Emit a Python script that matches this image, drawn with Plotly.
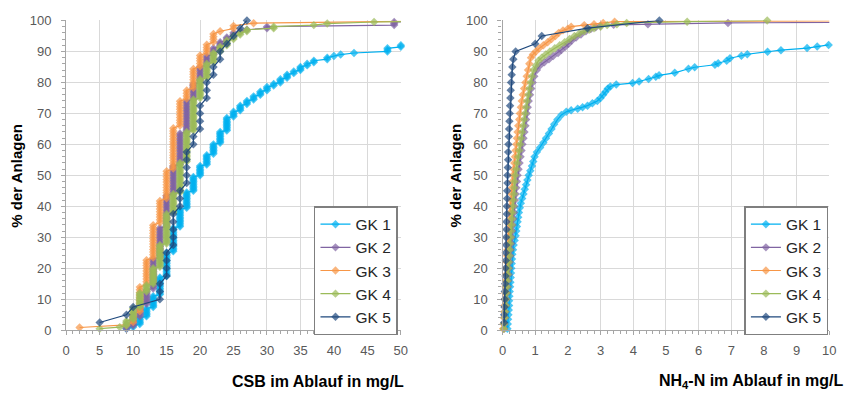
import plotly.graph_objects as go

# ---------------- data: left chart, CSB (COD) in mg/L ----------------
# distinct effluent values and cumulative share of plants (%) reached at each value
series_names = ["GK 1", "GK 2", "GK 3", "GK 4", "GK 5"]
csb_plants = [200, 200, 115, 200, 40]

csb_gk1_x = [9, 10, 11, 12, 13, 14, 15, 16, 17, 18, 19, 20, 21, 22, 23, 24, 25, 26, 27, 28,
             29, 30, 31, 32, 33, 34, 35, 36, 37, 39, 40, 41, 43, 48, 50]
csb_gk1_cum = [0.5, 1.5, 4, 7, 11, 17, 25, 33, 39, 44.5, 49.5, 53, 56.5, 60, 64, 68.5, 70.5, 72.5, 74, 75.5,
               77, 78.5, 79.5, 81, 82.5, 83.5, 85, 86, 87, 88, 88.5, 89, 89.5, 91, 92]

csb_gk2_x = [9, 10, 11, 12, 13, 14, 15, 16, 17, 18, 19, 20, 21, 22, 23, 24, 25, 26, 27, 30, 33, 49, 60]
csb_gk2_cum = [1, 4, 8, 13, 23, 33, 43.5, 53, 63.5, 74, 79.5, 85, 88.5, 91, 93, 94.5, 96, 96.5, 97,
               97.8, 98.2, 99.6, 100]

csb_gk3_x = [2, 9, 10, 11, 12, 13, 14, 15, 16, 17, 18, 19, 20, 21, 22, 23, 25, 28, 60]
csb_gk3_cum = [0.9, 2, 5, 14, 23, 34, 42, 51, 65, 74, 77.5, 84, 88.5, 92, 95.5, 96.7, 98, 99.2, 100]

csb_gk4_x = [5, 8, 9, 10, 11, 12, 13, 14, 15, 16, 17, 18, 19, 20, 21, 22, 23, 24, 25, 26, 27,
             29, 31, 33, 37, 39, 46, 60]
csb_gk4_cum = [0.5, 1.2, 3, 7, 12, 14.5, 20, 27.5, 37.5, 44, 54, 64, 74.5, 81, 86, 89.5, 91.5, 93.5, 95, 96, 96.8,
               97.2, 97.8, 98.2, 98.5, 98.8, 99.3, 100]

csb_gk5_x = [5, 9, 10, 14, 15, 16, 17, 18, 19, 20, 21, 22, 23, 24, 25, 26, 27]
csb_gk5_cum = [2.5, 5, 7.5, 15, 25, 37.5, 45, 57.5, 62.5, 72.5, 80, 85, 90, 92.5, 95, 97.5, 100]

# ---------------- data: right chart, NH4-N in mg/L ----------------
nh4_gk1_x = [0.15, 0.16, 0.17, 0.18, 0.19, 0.20, 0.20, 0.21, 0.22, 0.23, 0.24, 0.25, 0.26, 0.27, 0.28, 0.29,
             0.30, 0.32, 0.34, 0.37, 0.40, 0.42, 0.44, 0.46, 0.48, 0.50, 0.53, 0.56, 0.60, 0.64, 0.68, 0.72,
             0.76, 0.80, 0.85, 0.90, 0.94, 0.98, 1.05, 1.15, 1.25, 1.33, 1.42, 1.50, 1.58, 1.68, 1.80, 1.95,
             2.10, 2.30, 2.45, 2.60, 2.75, 2.90, 3.00, 3.08, 3.15, 3.22, 3.30, 3.48, 3.98, 4.18, 4.47, 4.69,
             4.79, 5.27, 5.69, 5.88, 6.50, 6.60, 6.86, 6.96, 7.31, 7.49, 8.11, 8.52, 9.32, 9.63, 9.98]
nh4_gk1_y = [0.5, 2, 3.5, 5, 6.5, 8, 9.5, 11, 12.5, 14, 15.5, 17, 18.5, 20, 21.5, 23,
             24.5, 26, 27.5, 29, 30.5, 32, 33.5, 35, 36.5, 38, 39.5, 41, 42.5, 44, 45.5, 47,
             48.5, 50, 51.5, 53, 54.5, 56, 57.5, 59, 60.5, 62, 63.5, 65, 66.5, 68, 69.5, 70.5,
             71, 71.5, 72, 72.5, 73.3, 74, 75, 76, 77, 78, 78.7, 79.3, 79.8, 80.3, 81.1, 81.8,
             82.3, 83.1, 84.4, 84.9, 85.7, 86.2, 87.0, 87.8, 88.6, 89.1, 89.9, 90.4, 91.1, 91.6, 92.1]

nh4_gk2_x = [0.05, 0.06, 0.08, 0.09, 0.11, 0.12, 0.14, 0.16, 0.17, 0.19, 0.20, 0.22, 0.24, 0.25, 0.27, 0.28,
             0.30, 0.31, 0.33, 0.35, 0.36, 0.38, 0.40, 0.42, 0.44, 0.46, 0.49, 0.52, 0.55, 0.58, 0.61, 0.64,
             0.67, 0.70, 0.72, 0.74, 0.77, 0.80, 0.84, 0.88, 0.92, 0.97, 1.05, 1.15, 1.28, 1.42, 1.55, 1.70,
             1.80, 1.92, 2.02, 2.12, 2.25, 2.40, 2.55, 2.70, 2.85, 3.00, 3.40, 4.45, 6.90, 20]
nh4_gk2_y = [0.5, 2, 4, 6, 8, 10, 12, 14, 16, 18, 20, 22, 24, 26, 28, 30,
             32, 34, 36, 38, 40, 42, 44, 46, 48, 50, 52, 54, 56, 58, 60, 62,
             64, 66, 68, 70, 72, 74, 76, 78, 80, 82, 84, 85.5, 86.5, 87.5, 88.5, 89.5,
             90.5, 91.5, 92.5, 93.5, 94.5, 95.5, 96.5, 97.2, 97.8, 98.3, 98.6, 98.8, 99.2, 100]

nh4_gk3_x = [0.02, 0.03, 0.04, 0.05, 0.06, 0.07, 0.08, 0.09, 0.10, 0.11, 0.12, 0.13, 0.14, 0.15, 0.17, 0.18,
             0.19, 0.20, 0.22, 0.23, 0.24, 0.26, 0.27, 0.29, 0.30, 0.32, 0.34, 0.36, 0.38, 0.40, 0.42, 0.44,
             0.46, 0.48, 0.51, 0.53, 0.56, 0.59, 0.62, 0.66, 0.70, 0.74, 0.78, 0.82, 0.87, 0.93, 1.02, 1.12,
             1.25, 1.38, 1.50, 1.62, 1.72, 1.85, 2.00, 2.10, 2.50, 2.80, 3.08, 3.43, 15]
nh4_gk3_y = [0.5, 2, 4, 6, 8, 10, 12, 14, 16, 18, 20, 22, 24, 26, 28, 30,
             32, 34, 36, 38, 40, 42, 44, 46, 48, 50, 52, 54, 56, 58, 60, 62,
             64, 66, 68, 70, 72, 74, 76, 78, 80, 82, 84, 86, 88, 89, 90, 91,
             92, 93, 94, 95, 96, 96.8, 97.3, 98, 98.5, 98.8, 99.2, 99.6, 100]

nh4_gk4_x = [0.04, 0.05, 0.07, 0.08, 0.10, 0.11, 0.12, 0.14, 0.15, 0.16, 0.18, 0.19, 0.21, 0.22, 0.23, 0.25,
             0.26, 0.28, 0.29, 0.30, 0.32, 0.33, 0.35, 0.36, 0.37, 0.39, 0.42, 0.45, 0.48, 0.51, 0.54, 0.57,
             0.60, 0.63, 0.66, 0.69, 0.72, 0.75, 0.79, 0.82, 0.86, 0.90, 0.95, 1.02, 1.10, 1.20, 1.32, 1.45,
             1.60, 1.75, 1.90, 2.05, 2.20, 2.35, 2.50, 2.65, 2.80, 3.00, 3.20, 3.50, 3.80, 5.65, 8.10]
nh4_gk4_y = [0.5, 2, 4, 6, 8, 10, 12, 14, 16, 18, 20, 22, 24, 26, 28, 30,
             32, 34, 36, 38, 40, 42, 44, 46, 48, 50, 52, 54, 56, 58, 60, 62,
             64, 66, 68, 70, 72, 74, 76, 78, 80, 82, 84, 85.5, 87, 88, 89, 90,
             91, 92, 93, 94, 95, 95.8, 96.5, 97, 97.5, 98, 98.5, 98.8, 99.2, 99.6, 100]

# GK 5: 40 plants, sorted effluent values
nh4_gk5_x = [0.05, 0.05, 0.06, 0.07, 0.07, 0.08, 0.09, 0.09, 0.10, 0.10,
             0.11, 0.11, 0.12, 0.12, 0.13, 0.13, 0.14, 0.14, 0.15, 0.15,
             0.16, 0.17, 0.17, 0.18, 0.19, 0.20, 0.21, 0.22, 0.23, 0.24,
             0.25, 0.26, 0.28, 0.30, 0.33, 0.40, 1.0, 1.2, 2.6, 4.8]

colors = ["#00B0F0", "#8064A2", "#F79646", "#9BBB59", "#1F497D"]

CSB_MAX = 50
NH4_MAX = 10
FONT = "Liberation Sans, Arial, sans-serif"


def ecdf_points(values, cum, n):
    """one point per plant: plants sharing a value stack vertically"""
    xs, ys = [], []
    done = 0
    for v, c in zip(values, cum):
        k = int(round(c * n / 100.0))
        for r in range(done + 1, k + 1):
            xs.append(v)
            ys.append(r * 100.0 / n)
        done = max(done, k)
    return xs, ys


csb_x = [csb_gk1_x, csb_gk2_x, csb_gk3_x, csb_gk4_x, csb_gk5_x]
csb_cum = [csb_gk1_cum, csb_gk2_cum, csb_gk3_cum, csb_gk4_cum, csb_gk5_cum]

nh4_x = [nh4_gk1_x, nh4_gk2_x, nh4_gk3_x, nh4_gk4_x, nh4_gk5_x]
nh4_y = [nh4_gk1_y, nh4_gk2_y, nh4_gk3_y, nh4_gk4_y,
         [(i + 1) * 100.0 / len(nh4_gk5_x) for i in range(len(nh4_gk5_x))]]

MSIZE = 6.5
fig = go.Figure()

for i, name in enumerate(series_names):
    xs, ys = ecdf_points(csb_x[i], csb_cum[i], csb_plants[i])
    fig.add_trace(go.Scatter(
        x=xs, y=ys, name=name, mode="lines+markers",
        line=dict(color=colors[i], width=1.2),
        marker=dict(symbol="diamond", color=colors[i],
                    size=[MSIZE if v <= CSB_MAX else 0 for v in xs],
                    line=dict(width=0)),
        cliponaxis=False, xaxis="x", yaxis="y",
        legend="legend", showlegend=True,
    ))

for i, name in enumerate(series_names):
    xs, ys = nh4_x[i], nh4_y[i]
    fig.add_trace(go.Scatter(
        x=xs, y=ys, name=name, mode="lines+markers",
        line=dict(color=colors[i], width=1.2),
        marker=dict(symbol="diamond", color=colors[i],
                    size=[MSIZE if v <= NH4_MAX else 0 for v in xs],
                    line=dict(width=0)),
        cliponaxis=False, xaxis="x2", yaxis="y2",
        legend="legend2", showlegend=True,
    ))

W, H = 860, 394
L1, R1 = 63, 402
L2, R2 = 505, 836
TOP, BOT = 14, 336

grid = "#D9D9D9"
axc = "#A6A6A6"
tickfont = dict(family=FONT, size=13, color="#595959")


def xaxis(dom, rng, dt, mdt, anchor):
    return dict(domain=dom, range=rng, dtick=dt, tick0=0, anchor=anchor,
                showgrid=True, gridcolor=grid, gridwidth=1.3,
                showline=True, linecolor=axc, linewidth=1.3, zeroline=False,
                ticks="outside", ticklen=4, tickcolor=axc, tickwidth=1,
                ticklabelstandoff=4,
                minor=dict(dtick=mdt, tick0=0, ticks="outside", ticklen=3, tickcolor=axc, showgrid=False),
                tickfont=tickfont, fixedrange=True)


def yaxis(anchor):
    return dict(domain=[1 - BOT / H, 1 - TOP / H], range=[0, 100], dtick=10, tick0=0, anchor=anchor,
                showgrid=True, gridcolor=grid, gridwidth=1.3,
                showline=True, linecolor=axc, linewidth=1.3, zeroline=False,
                ticks="outside", ticklen=4, tickcolor=axc, tickwidth=1,
                ticklabelstandoff=7,
                minor=dict(dtick=2, tick0=0, ticks="outside", ticklen=3, tickcolor=axc, showgrid=False),
                tickfont=tickfont, fixedrange=True)


legend_common = dict(bgcolor="white", bordercolor="#7F7F7F", borderwidth=1.5,
                     font=dict(family=FONT, size=15.5, color="#262626"),
                     xanchor="left", yanchor="top", tracegroupgap=0, itemclick=False)

fig.update_layout(
    width=W, height=H, margin=dict(l=0, r=0, t=0, b=0),
    paper_bgcolor="white", plot_bgcolor="white",
    font=dict(family=FONT),
    xaxis=xaxis([L1 / W, R1 / W], [0, CSB_MAX], 5, 1, "y"),
    yaxis=yaxis("x"),
    xaxis2=xaxis([L2 / W, R2 / W], [0, NH4_MAX], 1, 0.2, "y2"),
    yaxis2=yaxis("x2"),
    legend=dict(x=314 / W, y=1 - 207 / H, **legend_common),
    legend2=dict(x=750 / W, y=1 - 207 / H, **legend_common),
    annotations=[
        dict(text="<b>% der Anlagen</b>", x=12.5 / W, y=1 - 175 / H, xref="paper", yref="paper",
             textangle=-90, showarrow=False, xanchor="center", yanchor="middle",
             font=dict(family=FONT, size=15, color="#000000")),
        dict(text="<b>% der Anlagen</b>", x=457 / W, y=1 - 175 / H, xref="paper", yref="paper",
             textangle=-90, showarrow=False, xanchor="center", yanchor="middle",
             font=dict(family=FONT, size=15, color="#000000")),
        dict(text="<b>CSB im Ablauf in mg/L</b>", x=407 / W, y=1 - 389 / H, xref="paper", yref="paper",
             showarrow=False, xanchor="right", yanchor="middle",
             font=dict(family=FONT, size=16, color="#000000")),
        dict(text="<b>NH<sub>4</sub>-N im Ablauf in mg/L</b>", x=853 / W, y=1 - 389 / H,
             xref="paper", yref="paper", showarrow=False, xanchor="right", yanchor="middle",
             font=dict(family=FONT, size=16, color="#000000")),
    ],
)

fig.write_html("out.html")
